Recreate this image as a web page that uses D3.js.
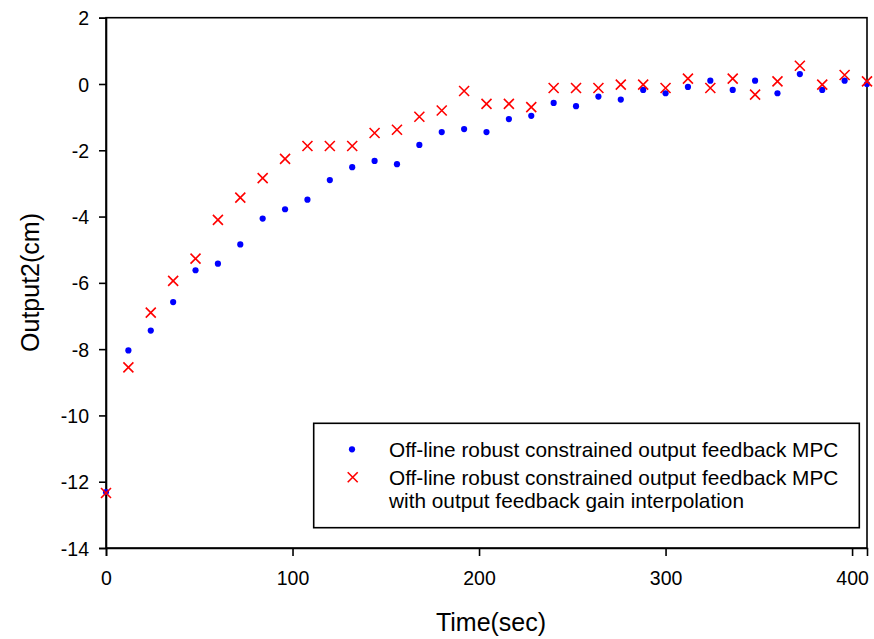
<!DOCTYPE html>
<html>
<head>
<meta charset="utf-8">
<script src="https://cdn.jsdelivr.net/npm/d3@7"></script>
<style>
  html, body { margin: 0; padding: 0; background: #fff; }
  svg { display: block; }
  text { font-family: "Liberation Sans", Arial, sans-serif; fill: #000; }
</style>
</head>
<body>
<svg id="chart" width="874" height="639"></svg>
<script>
const time = [0,12,24,36,48,60,72,84,96,108,120,132,144,156,168,180,192,204,216,228,240,252,264,276,288,300,312,324,336,348,360,372,384,396,408];
const seriesA = [-12.31,-8.04,-7.44,-6.58,-5.62,-5.42,-4.84,-4.06,-3.78,-3.49,-2.90,-2.51,-2.32,-2.42,-1.84,-1.45,-1.36,-1.45,-1.06,-0.96,-0.57,-0.67,-0.38,-0.47,-0.18,-0.28,-0.09,0.10,-0.18,0.10,-0.28,0.30,-0.18,0.10,0.00];
const seriesB = [-12.34,-8.55,-6.90,-5.94,-5.27,-4.10,-3.43,-2.84,-2.26,-1.87,-1.87,-1.87,-1.48,-1.38,-0.99,-0.80,-0.21,-0.60,-0.60,-0.70,-0.12,-0.12,-0.12,-0.02,-0.02,-0.12,0.16,-0.12,0.16,-0.32,0.08,0.55,-0.02,0.27,0.08];
const xTicks = [0,100,200,300,400];
const yTicks = [2,0,-2,-4,-6,-8,-10,-12,-14];
const legendA = ["Off-line robust constrained output feedback MPC"];
const legendB = ["Off-line robust constrained output feedback MPC", "with output feedback gain interpolation"];
const xTitle = "Time(sec)";
const yTitle = "Output2(cm)";

const svg = d3.select("#chart");
const L = 106, R = 867, T = 17.7, B = 548;
const x = d3.scaleLinear().domain([0, 408]).range([L, R]);
const y = d3.scaleLinear().domain([-14, 2]).range([B, T]);

// frame
svg.append("rect").attr("x", L).attr("y", T).attr("width", R - L).attr("height", B - T)
  .attr("fill", "none").attr("stroke", "#000").attr("stroke-width", 1.6);

// axes
const fmt = d => String(d);
const yAxis = svg.append("g").attr("transform", `translate(${L},0)`)
  .call(d3.axisLeft(y).tickValues(yTicks).tickSize(7).tickPadding(10).tickFormat(fmt));
const xAxis = svg.append("g").attr("transform", `translate(0,${B})`)
  .call(d3.axisBottom(x).tickValues(xTicks).tickSize(8).tickPadding(15).tickFormat(fmt));
[yAxis, xAxis].forEach(g => {
  g.select(".domain").attr("stroke", "#000").attr("stroke-width", 1.6);
  g.selectAll(".tick line").attr("stroke", "#000").attr("stroke-width", 1.6);
  g.selectAll(".tick text").attr("font-size", 19.5).attr("font-family", "Liberation Sans, Arial, sans-serif").attr("fill", "#000");
});
yAxis.selectAll(".tick text").attr("dy", "0.36em");

// titles
svg.append("text").attr("x", 491).attr("y", 631).attr("text-anchor", "middle")
  .attr("font-size", 25).text(xTitle);
svg.append("text").attr("transform", "translate(39,282.5) rotate(-90)").attr("text-anchor", "middle")
  .attr("font-size", 25).text(yTitle);

// markers
const plot = svg.append("g");
const crossPath = s => `M${-s},${-s}L${s},${s}M${-s},${s}L${s},${-s}`;

plot.selectAll("circle.a").data(time).join("circle").attr("class", "a")
  .attr("cx", (d) => x(d)).attr("cy", (d, i) => y(seriesA[i])).attr("r", 3.1).attr("fill", "#0000ff");
plot.selectAll("path.b").data(time).join("path").attr("class", "b")
  .attr("transform", (d, i) => `translate(${x(d)},${y(seriesB[i])})`)
  .attr("d", crossPath(5)).attr("stroke", "#ff0000").attr("stroke-width", 1.6).attr("fill", "none");

// legend
const lg = svg.append("g");
lg.append("rect").attr("x", 313.7).attr("y", 423.3).attr("width", 859.3 - 313.7).attr("height", 527.7 - 423.3)
  .attr("fill", "#fff").attr("stroke", "#000").attr("stroke-width", 1.6);
lg.append("circle").attr("cx", 352).attr("cy", 449.3).attr("r", 3.1).attr("fill", "#0000ff");
lg.append("path").attr("transform", "translate(352.7,477.3)").attr("d", crossPath(5))
  .attr("stroke", "#ff0000").attr("stroke-width", 1.6).attr("fill", "none");
lg.append("text").attr("x", 389).attr("y", 457).attr("font-size", 20.8).text(legendA[0]);
lg.append("text").attr("x", 389).attr("y", 485).attr("font-size", 20.8).text(legendB[0]);
lg.append("text").attr("x", 389).attr("y", 507.5).attr("font-size", 20.8).text(legendB[1]);
</script>
</body>
</html>
